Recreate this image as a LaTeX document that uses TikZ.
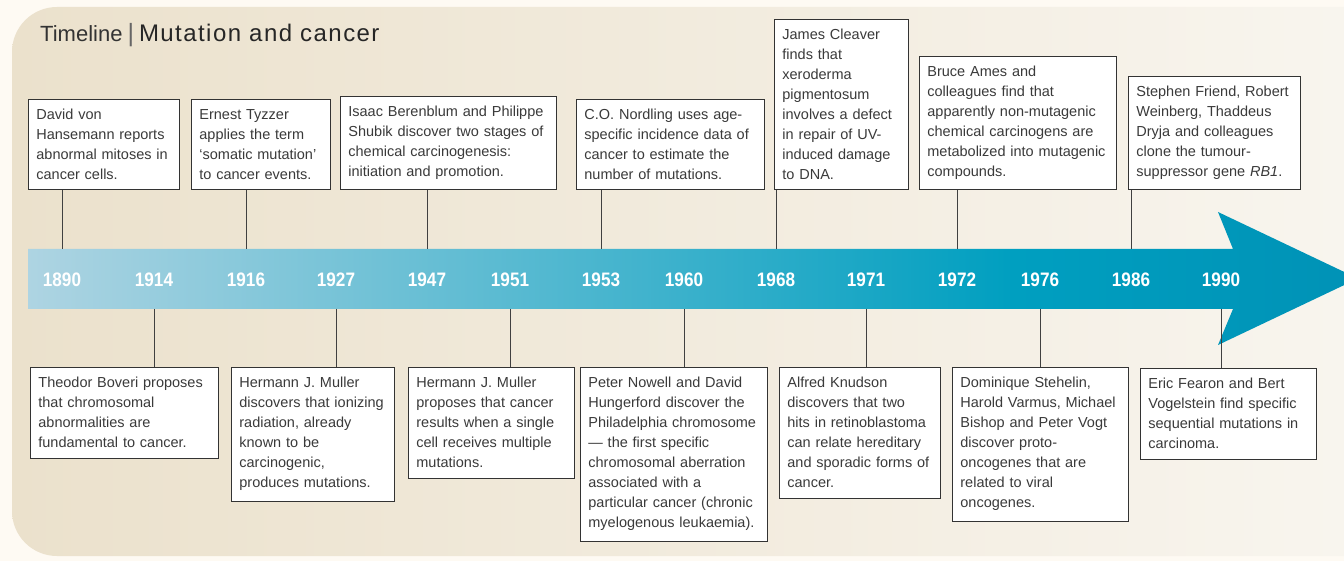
\documentclass[tikz,border=0pt]{standalone}
\usepackage{fontspec}
\setmainfont{Liberation Sans}
\newfontfamily\yearfont{Liberation Sans}[FakeStretch=0.88]
\newfontfamily\titlefont{Liberation Sans}[LetterSpace=6]

\definecolor{bgout}{RGB}{254,250,243}
\definecolor{bgleft}{RGB}{235,225,204}
\definecolor{bgright}{RGB}{249,246,240}
\definecolor{shaftlight}{RGB}{174,212,226}
\definecolor{tealA}{RGB}{0,159,192}
\definecolor{tealB}{RGB}{0,146,182}
\definecolor{txtgray}{RGB}{58,58,58}

\pgfdeclarehorizontalshading{arrowsh}{100bp}{color(0bp)=(shaftlight);
  color(25bp)=(shaftlight); color(62bp)=(tealA); color(75bp)=(tealB);
  color(100bp)=(tealB)}

\tikzset{
  event/.style={draw=black!80, line width=0.8pt, fill=white, text=txtgray,
    inner xsep=8pt, inner ysep=10pt, align=left,
    font=\fontsize{14.5}{20}\selectfont},
  yearlbl/.style={text=white, font=\yearfont\bfseries\fontsize{19.5}{19.5}\selectfont},
  tick/.style={draw=black!75, line width=0.7pt}
}

\begin{document}
\begin{tikzpicture}[x=1pt,y=-1pt]
  \clip (0,0) rectangle (1344,561);
  \fill[bgout] (0,0) rectangle (1344,561);
  \shade[left color=bgleft, right color=bgright, rounded corners=45pt]
    (12,7) rectangle (1420,556);

  \node[anchor=base west, inner sep=0pt, text=black!85] (title) at (40,42)
    {{\fontsize{22}{22}\selectfont\color{black!80}Timeline}\hspace{5pt}{\fontsize{25}{25}\selectfont\color{black!60}|}\hspace{5pt}{\titlefont\fontsize{24}{24}\selectfont Mutation and cancer}};

  % arrow
  \shade[shading=arrowsh]
    (28,249) -- (1233,249) -- (1218,212) -- (1358,278.5) -- (1218,345)
    -- (1233,309) -- (28,309) -- cycle;
  \coordinate (shaftTop) at (0,249);
  \coordinate (shaftBot) at (0,309);

  \foreach \yr/\x in {1890/62,1914/154,1916/246,1927/336,1947/427,1951/510,
                      1953/601,1960/684,1968/776,1971/866,1972/957,1976/1040,
                      1986/1131,1990/1221}
    \node[yearlbl] (y\yr) at (\x,280) {\yr};

  % events above
  \node[event, text width=135pt, anchor=south west] (b1890) at (28,190)
    {David von\\Hansemann reports\\abnormal mitoses in\\cancer cells.};
  \node[event, text width=123pt, anchor=south west] (b1916) at (191,190)
    {Ernest Tyzzer\\applies the term\\‘somatic mutation’\\to cancer events.};
  \node[event, text width=200pt, anchor=south west] (b1947) at (340,190)
    {Isaac Berenblum and Philippe\\Shubik discover two stages of\\chemical carcinogenesis:\\initiation and promotion.};
  \node[event, text width=172pt, anchor=south west] (b1953) at (576,190)
    {C.O. Nordling uses age-\\specific incidence data of\\cancer to estimate the\\number of mutations.};
  \node[event, text width=118pt, anchor=south west] (b1968) at (774,190)
    {James Cleaver\\finds that\\xeroderma\\pigmentosum\\involves a defect\\in repair of UV-\\induced damage\\to DNA.};
  \node[event, text width=181pt, anchor=south west] (b1972) at (919,190)
    {Bruce Ames and\\colleagues find that\\apparently non-mutagenic\\chemical carcinogens are\\metabolized into mutagenic\\compounds.};
  \node[event, text width=156pt, anchor=south west] (b1986) at (1128,190)
    {Stephen Friend, Robert\\Weinberg, Thaddeus\\Dryja and colleagues\\clone the tumour-\\suppressor gene \textit{RB1}.};

  % events below
  \node[event, text width=172pt, anchor=north west] (b1914) at (30,367)
    {Theodor Boveri proposes\\that chromosomal\\abnormalities are\\fundamental to cancer.};
  \node[event, text width=147pt, anchor=north west] (b1927) at (231,367)
    {Hermann J. Muller\\discovers that ionizing\\radiation, already\\known to be\\carcinogenic,\\produces mutations.};
  \node[event, text width=150pt, anchor=north west] (b1951) at (408,367)
    {Hermann J. Muller\\proposes that cancer\\results when a single\\cell receives multiple\\mutations.};
  \node[event, text width=171pt, anchor=north west] (b1960) at (580,367)
    {Peter Nowell and David\\Hungerford discover the\\Philadelphia chromosome\\— the first specific\\chromosomal aberration\\associated with a\\particular cancer (chronic\\myelogenous leukaemia).};
  \node[event, text width=145pt, anchor=north west] (b1971) at (779,367)
    {Alfred Knudson\\discovers that two\\hits in retinoblastoma\\can relate hereditary\\and sporadic forms of\\cancer.};
  \node[event, text width=160pt, anchor=north west] (b1976) at (952,367)
    {Dominique Stehelin,\\Harold Varmus, Michael\\Bishop and Peter Vogt\\discover proto-\\oncogenes that are\\related to viral\\oncogenes.};
  \node[event, text width=160pt, anchor=north west] (b1990) at (1140,368)
    {Eric Fearon and Bert\\Vogelstein find specific\\sequential mutations in\\carcinoma.};

  \foreach \yr in {1890,1916,1947,1953,1968,1972,1986}
    \draw[tick] (b\yr.south -| y\yr) -- (y\yr |- shaftTop);
  \foreach \yr in {1914,1927,1951,1960,1971,1976,1990}
    \draw[tick] (y\yr |- shaftBot) -- (b\yr.north -| y\yr);
\end{tikzpicture}
\end{document}
